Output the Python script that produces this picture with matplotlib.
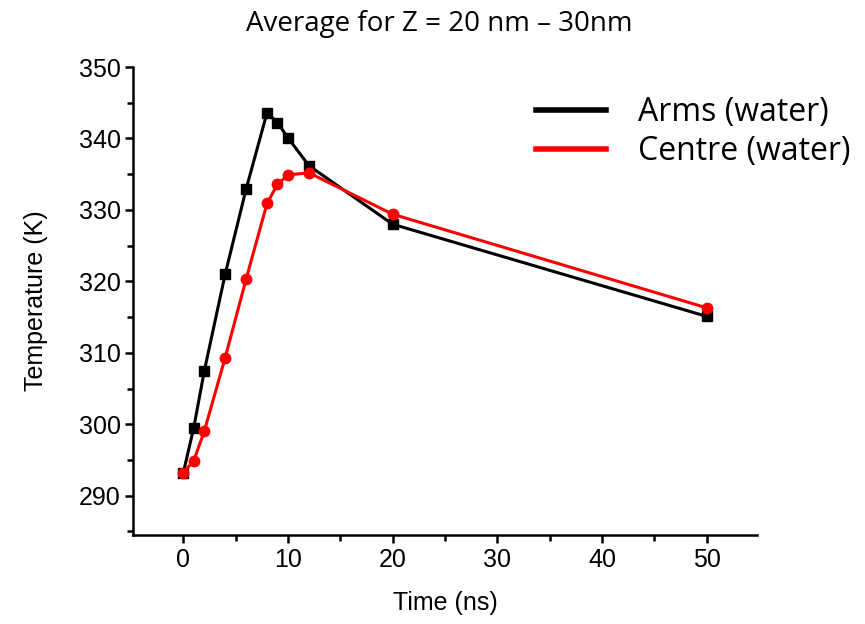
import matplotlib.pyplot as plt
from matplotlib.ticker import MultipleLocator

# time points (ns)
time_ns = [0, 1, 2, 4, 6, 8, 9, 10, 12, 20, 50]

# temperatures (K)
arms_water = [293.2, 299.5, 307.4, 321.0, 332.9, 343.6, 342.2, 340.1, 336.2, 328.0, 315.1]
centre_water = [293.2, 294.9, 299.0, 309.3, 320.3, 330.9, 333.6, 334.9, 335.2, 329.4, 316.3]

fig = plt.figure(figsize=(8.65, 6.24), dpi=100)
ax = fig.add_axes([0.1538, 0.1426, 0.7212, 0.75])

ax.plot(time_ns, arms_water, color='black', lw=2.2, marker='s', ms=6.5, label='Arms (water)')
ax.plot(time_ns, centre_water, color='red', lw=2.2, marker='o', ms=7.5, label='Centre (water)')

ax.set_xlim(-4.8, 54.8)
ax.set_ylim(284.5, 350)
ax.xaxis.set_major_locator(MultipleLocator(10))
ax.xaxis.set_minor_locator(MultipleLocator(5))
ax.yaxis.set_major_locator(MultipleLocator(10))
ax.yaxis.set_minor_locator(MultipleLocator(5))

for s in ['top', 'right']:
    ax.spines[s].set_visible(False)
for s in ['left', 'bottom']:
    ax.spines[s].set_linewidth(1.8)

ax.tick_params(which='major', direction='out', length=6, width=1.8, labelsize=18, pad=3)
ax.tick_params(which='minor', direction='out', length=4, width=1.8)
for lab in ax.get_xticklabels() + ax.get_yticklabels():
    lab.set_family('Liberation Sans')

ax.set_xlabel('Time (ns)', fontsize=18, family='Liberation Sans', labelpad=14)
ax.set_ylabel('Temperature (K)', fontsize=18, family='Liberation Sans', labelpad=22)

fig.text(0.508, 0.962, 'Average for Z = 20 nm \u2013 30nm', ha='center', va='center',
         fontsize=20, family='Open Sans')

leg = ax.legend(loc='upper left', bbox_to_anchor=(0.6, 1.0), frameon=False,
                prop={'family': 'Open Sans', 'size': 23}, handlelength=2.2,
                handletextpad=1.0, labelspacing=0.2, markerscale=0)
for line in leg.get_lines():
    line.set_marker('')
    line.set_linewidth(4)

fig.savefig('out.png', dpi=100)
